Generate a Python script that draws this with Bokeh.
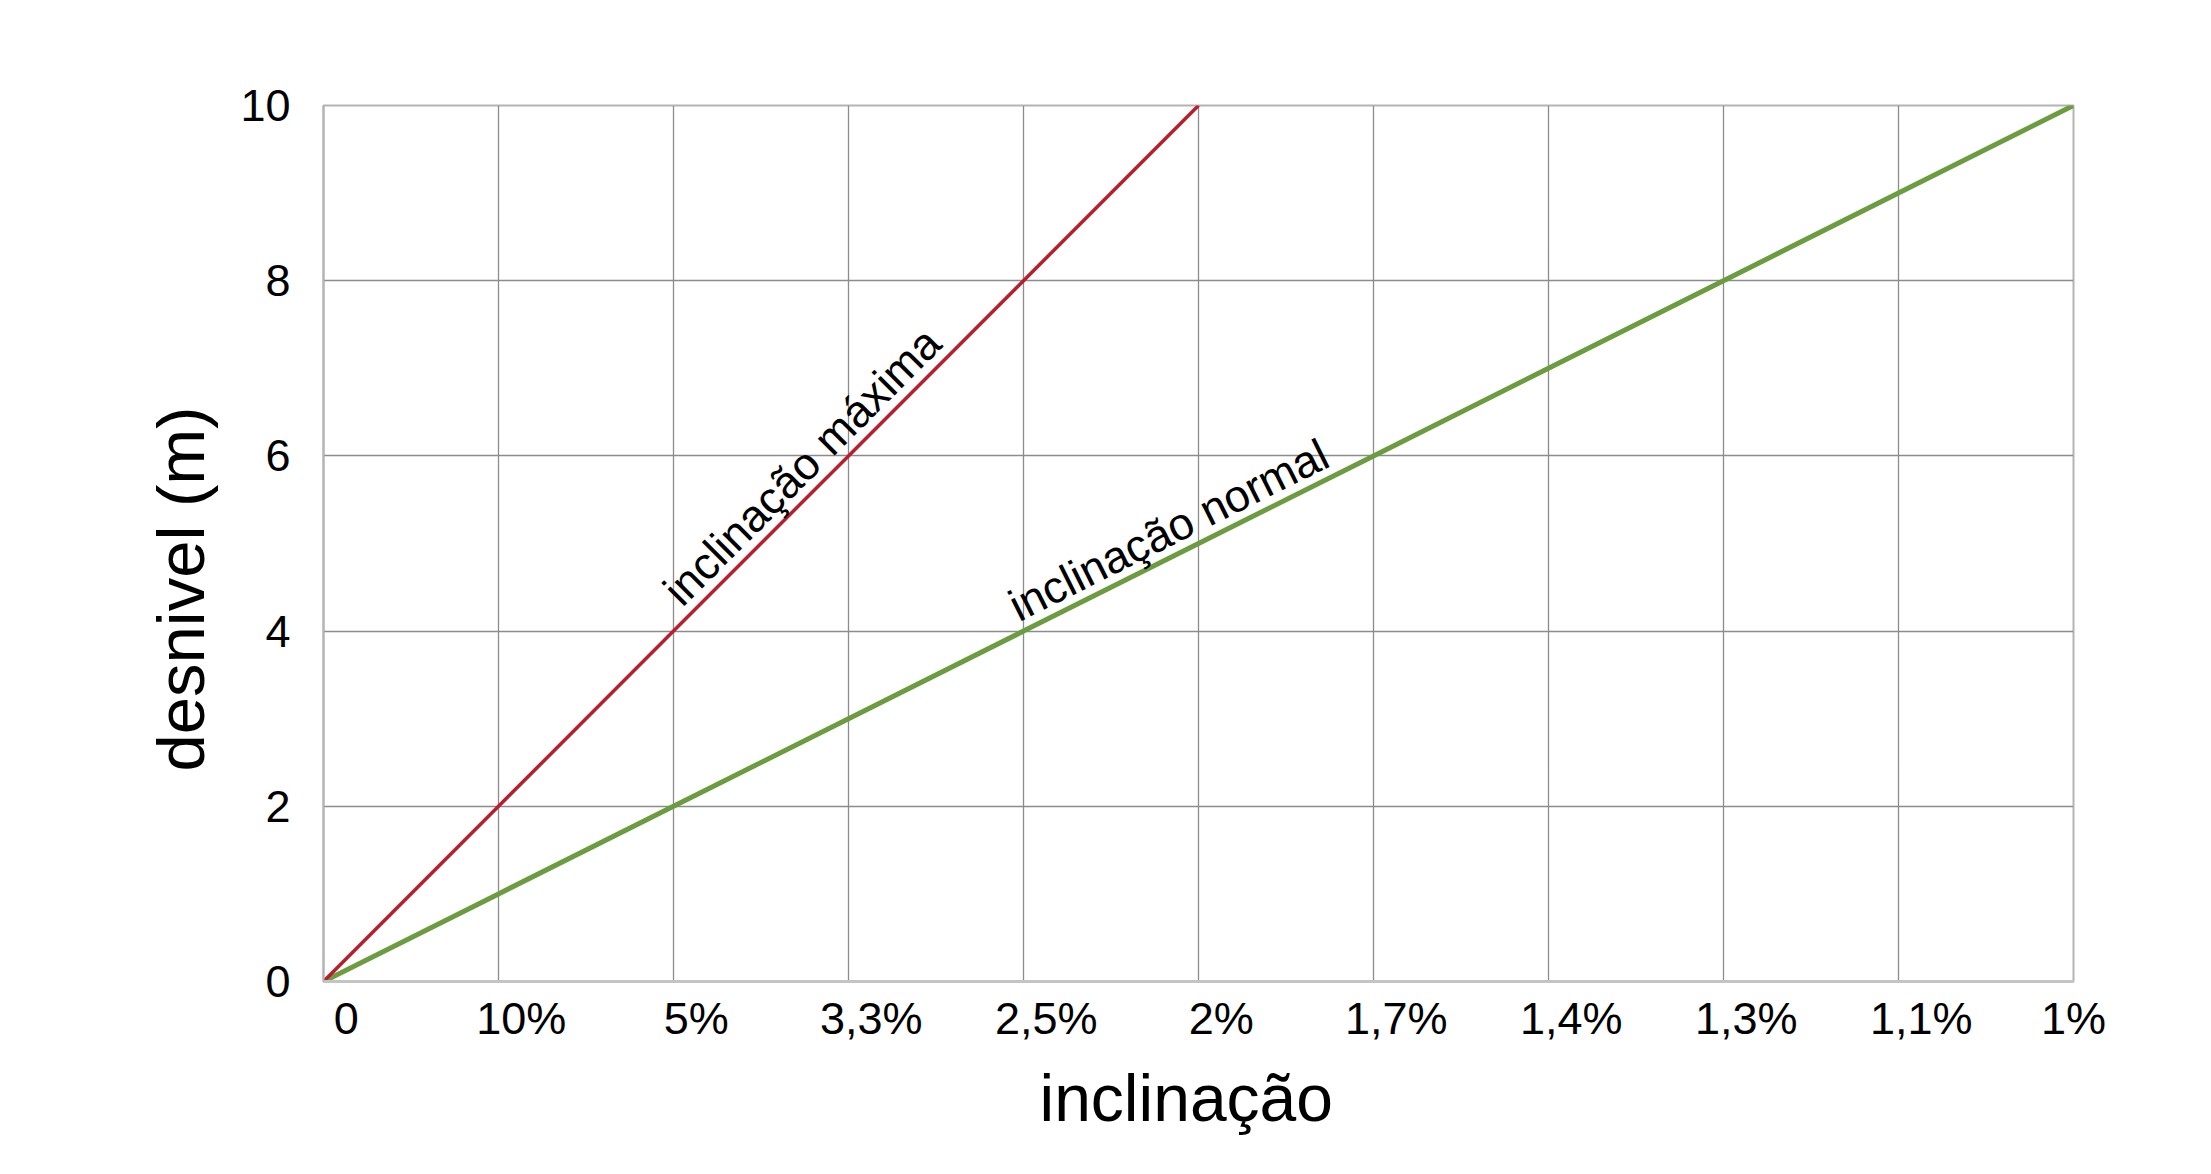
import numpy as np
from bokeh.plotting import figure
from bokeh.models import Range1d, FixedTicker, LinearAxis, Title, ColumnDataSource, Grid
from bokeh.core.properties import value
from bokeh.embed import file_html
from bokeh.resources import INLINE

# ---- data ----
x_index = list(range(11))
x_labels = ["0", "10%", "5%", "3,3%", "2,5%", "2%", "1,7%", "1,4%", "1,3%", "1,1%", "1%"]
red_x = [0, 1, 2, 3, 4, 5]
red_y = [0, 2, 4, 6, 8, 10]
green_x = [0, 1, 2, 3, 4, 5, 6, 7, 8, 9, 10]
green_y = [0, 1, 2, 3, 4, 5, 6, 7, 8, 9, 10]
y_ticks = [0, 2, 4, 6, 8, 10]
line_labels = ["inclinação máxima", "inclinação normal"]
label_at_x = [2.09, 4.0]

FONT = "Liberation Sans"
W, H = 2195, 1158
BL, BR, BT, BB = 323, 122, 105, 177
FW, FH = W - BL - BR, H - BT - BB

p = figure(width=W, height=H, output_backend="svg", toolbar_location=None,
           x_range=Range1d(0, 10), y_range=Range1d(0, 10),
           x_axis_location=None, y_axis_location=None,
           min_border_left=BL, min_border_right=BR, min_border_top=BT, min_border_bottom=BB)
p.background_fill_color = "white"
p.border_fill_color = "white"
p.outline_line_color = "#b4b4b4"
p.outline_line_width = 2

# tick labels sit a little to the right of their grid lines (last one stays at the edge)
lab_shift = 0.13
lab_pos = [min(i + lab_shift, x_index[-1]) for i in x_index]
xa = LinearAxis(ticker=FixedTicker(ticks=lab_pos),
                major_label_overrides={pos: s for pos, s in zip(lab_pos, x_labels)})
xa.axis_line_color = "#c4c4c4"
xa.axis_line_width = 3
xa.major_tick_line_color = None
xa.minor_tick_line_color = None
xa.major_label_standoff = 5
xa.major_label_text_font = FONT
xa.major_label_text_font_size = "45px"
xa.major_label_text_color = "black"
p.add_layout(xa, "below")

xt = Title(text="inclinação", align="left", offset=716, vertical_align="top", standoff=28,
           text_font=FONT, text_font_size="66px", text_font_style="normal", text_color="black")
p.add_layout(xt, "below")

ya = LinearAxis(ticker=FixedTicker(ticks=y_ticks))
ya.axis_line_color = "#b4b4b4"
ya.axis_line_width = 2
ya.major_tick_line_color = None
ya.minor_tick_line_color = None
ya.major_label_standoff = 27
ya.major_label_text_font = FONT
ya.major_label_text_font_size = "45px"
ya.major_label_text_color = "black"
p.add_layout(ya, "left")

ttl = Title(text="desnivel (m)", align="left", offset=210, standoff=40,
            text_font=FONT, text_font_size="67px", text_font_style="normal",
            text_color="black")
p.add_layout(ttl, "left")

# grids
p.add_layout(Grid(dimension=0, ticker=FixedTicker(ticks=x_index),
                  grid_line_color="#8c8c8c", grid_line_width=1.3))
p.add_layout(Grid(dimension=1, ticker=FixedTicker(ticks=y_ticks),
                  grid_line_color="#8c8c8c", grid_line_width=1.3))

# lines
p.line(green_x, green_y, line_color="#6c9c40", line_width=5)
p.line(red_x, red_y, line_color="#b81f2e", line_width=3.5)

# line labels, angle from the slope of each series in screen pixels
ppx = FW / 10.0
ppy = FH / 10.0
red_slope = (red_y[1] - red_y[0]) / (red_x[1] - red_x[0])
green_slope = (green_y[1] - green_y[0]) / (green_x[1] - green_x[0])
angles = [np.arctan(red_slope * ppy / ppx), np.arctan(green_slope * ppy / ppx)]
ly = [float(np.interp(label_at_x[0], red_x, red_y)), float(np.interp(label_at_x[1], green_x, green_y))]
src = ColumnDataSource(dict(x=label_at_x, y=ly, t=line_labels, a=angles))
p.text(x="x", y="y", text="t", angle="a", source=src,
       text_font=value(FONT), text_font_size="45px", text_color="black",
       text_align="left", text_baseline="bottom")

open("out.html", "w").write(file_html(p, INLINE))
